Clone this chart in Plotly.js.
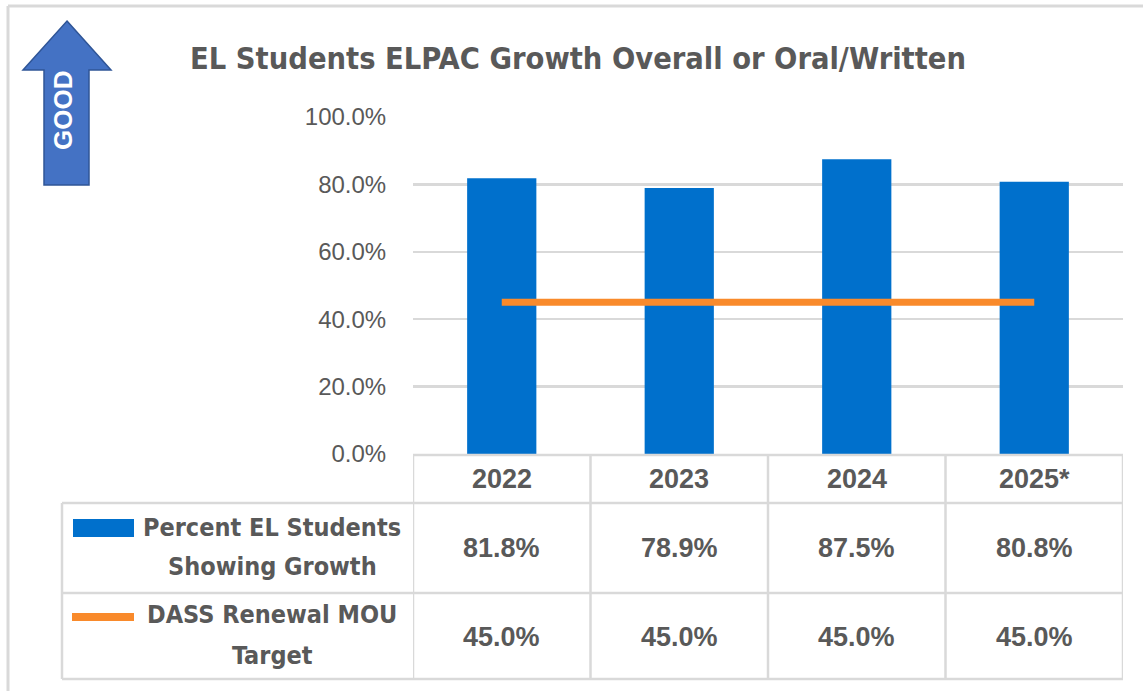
<!DOCTYPE html>
<html>
<head>
<meta charset="utf-8">
<script src="https://cdn.plot.ly/plotly-3.0.1.min.js"></script>
<style>
  html, body { margin: 0; padding: 0; background: #ffffff; }
  #chart { width: 1143px; height: 691px; }
</style>
</head>
<body>
<div id="chart"></div>
<script>
// ---- Data ----
const categories = ['2022', '2023', '2024', '2025*'];
const growthPct = [81.8, 78.9, 87.5, 80.8];
const targetPct = [45.0, 45.0, 45.0, 45.0];
const growthName = ['Percent EL Students', 'Showing Growth'];
const targetName = ['DASS Renewal MOU', 'Target'];
const yTickVals = [0, 20, 40, 60, 80, 100];
const chartTitle = 'EL Students ELPAC Growth Overall or Oral/Written';
const arrowLabel = 'GOOD';

// ---- Styling / geometry ----
const W = 1143, H = 691;
const L = 413, R = 1123, T = 117, B = 454;
const PW = R - L, PH = B - T;
const X = px => (px - L) / PW;
const Y = py => (B - py) / PH;
const GRID = '#d9d9d9';
const TXT = '#595959';
const BLUE = '#0070CC';
const ORANGE = '#F98A2B';
const NARROW = '"Liberation Sans Narrow", "DejaVu Sans Condensed", "Arial Narrow", sans-serif';
const ARIAL = '"Liberation Sans", Arial, sans-serif';

const traces = [
  {
    type: 'bar',
    x: categories,
    y: growthPct,
    name: growthName.join(' '),
    marker: { color: BLUE, line: { width: 0 } },
    hoverinfo: 'skip'
  },
  {
    type: 'scatter',
    mode: 'lines',
    x: categories,
    y: targetPct,
    name: targetName.join(' '),
    line: { color: ORANGE, width: 7 },
    hoverinfo: 'skip'
  }
];

const shapes = [];
const annotations = [];

// Outer border (top & left)
shapes.push({ type: 'line', xref: 'paper', yref: 'paper', x0: X(8), x1: X(1143), y0: Y(6), y1: Y(6), line: { color: GRID, width: 3 } });
shapes.push({ type: 'line', xref: 'paper', yref: 'paper', x0: X(8), x1: X(8), y0: Y(6), y1: Y(691), line: { color: GRID, width: 3 } });

// Data table grid
const rowTop = 455, rowH = 503, rowG = 593, rowBot = 679;
const tblLine = { color: GRID, width: 2.5 };
shapes.push({ type: 'line', xref: 'paper', yref: 'paper', x0: 0, x1: 1, y0: Y(rowTop), y1: Y(rowTop), line: tblLine });
[rowH, rowG, rowBot].forEach(py => {
  shapes.push({ type: 'line', xref: 'paper', yref: 'paper', x0: X(62), x1: 1, y0: Y(py), y1: Y(py), line: tblLine });
});
shapes.push({ type: 'line', xref: 'paper', yref: 'paper', x0: X(62), x1: X(62), y0: Y(rowH), y1: Y(rowBot), line: tblLine });
for (let i = 0; i <= categories.length; i++) {
  shapes.push({ type: 'line', xref: 'x', yref: 'paper', x0: i - 0.5, x1: i - 0.5, y0: Y(rowTop), y1: Y(rowBot), line: tblLine });
}

// Table text
const cellFont = { family: ARIAL, size: 27, color: TXT, weight: 700 };
categories.forEach((c, i) => {
  annotations.push({ xref: 'x', yref: 'paper', x: i, y: Y(479), text: c, showarrow: false, xanchor: 'center', yanchor: 'middle', font: cellFont });
  annotations.push({ xref: 'x', yref: 'paper', x: i, y: Y(548), text: growthPct[i].toFixed(1) + '%', showarrow: false, xanchor: 'center', yanchor: 'middle', font: cellFont });
  annotations.push({ xref: 'x', yref: 'paper', x: i, y: Y(637), text: targetPct[i].toFixed(1) + '%', showarrow: false, xanchor: 'center', yanchor: 'middle', font: cellFont });
});

// Legend keys in table
shapes.push({ type: 'rect', xref: 'paper', yref: 'paper', x0: X(73), x1: X(134), y0: Y(537), y1: Y(519), fillcolor: BLUE, line: { width: 0 } });
shapes.push({ type: 'line', xref: 'paper', yref: 'paper', x0: X(72), x1: X(134), y0: Y(617), y1: Y(617), line: { color: ORANGE, width: 8 } });
const legFont = { family: NARROW, size: 25, color: TXT, weight: 700 };
annotations.push({ xref: 'paper', yref: 'paper', x: X(272), y: Y(527), text: growthName[0], showarrow: false, xanchor: 'center', yanchor: 'middle', font: legFont });
annotations.push({ xref: 'paper', yref: 'paper', x: X(272), y: Y(566), text: growthName[1], showarrow: false, xanchor: 'center', yanchor: 'middle', font: legFont });
annotations.push({ xref: 'paper', yref: 'paper', x: X(272), y: Y(614), text: targetName[0], showarrow: false, xanchor: 'center', yanchor: 'middle', font: legFont });
annotations.push({ xref: 'paper', yref: 'paper', x: X(272), y: Y(655), text: targetName[1], showarrow: false, xanchor: 'center', yanchor: 'middle', font: legFont });

// GOOD arrow
const arrowPts = [[67, 21], [111, 70], [89, 70], [89, 185], [44, 185], [44, 70], [23, 70]];
const arrowPath = 'M ' + arrowPts.map(p => X(p[0]) + ',' + Y(p[1])).join(' L ') + ' Z';
shapes.push({ type: 'path', xref: 'paper', yref: 'paper', path: arrowPath, fillcolor: '#4472C4', line: { color: '#2F5597', width: 1.5 } });
annotations.push({ xref: 'paper', yref: 'paper', x: X(63), y: Y(111), text: arrowLabel, textangle: -90, showarrow: false, xanchor: 'center', yanchor: 'middle',
  font: { family: ARIAL, size: 26, color: '#ffffff', weight: 700 } });

const layout = {
  width: W, height: H,
  margin: { l: L, r: W - R, t: T, b: H - B, pad: 0 },
  paper_bgcolor: '#ffffff', plot_bgcolor: '#ffffff',
  showlegend: false,
  bargap: 0.61,
  title: {
    text: chartTitle,
    font: { family: NARROW, size: 30.5, color: TXT, weight: 700 },
    xref: 'container', yref: 'container',
    x: 578 / W, xanchor: 'center',
    y: 1 - 58 / H, yanchor: 'middle'
  },
  xaxis: {
    type: 'category',
    range: [-0.5, categories.length - 0.5],
    showticklabels: false, showgrid: false, zeroline: false, showline: false, ticks: ''
  },
  yaxis: {
    range: [0, 100],
    tickmode: 'array',
    tickvals: yTickVals,
    ticktext: yTickVals.map(v => v.toFixed(1) + '%'),
    showgrid: true, gridcolor: GRID, gridwidth: 2.5,
    zeroline: false, showline: false,
    ticks: 'outside', ticklen: 21, tickcolor: 'rgba(0,0,0,0)',
    tickfont: { family: ARIAL, size: 24, color: TXT }
  },
  shapes: shapes,
  annotations: annotations
};

Plotly.newPlot('chart', traces, layout, { displayModeBar: false, staticPlot: true });
</script>
</body>
</html>
